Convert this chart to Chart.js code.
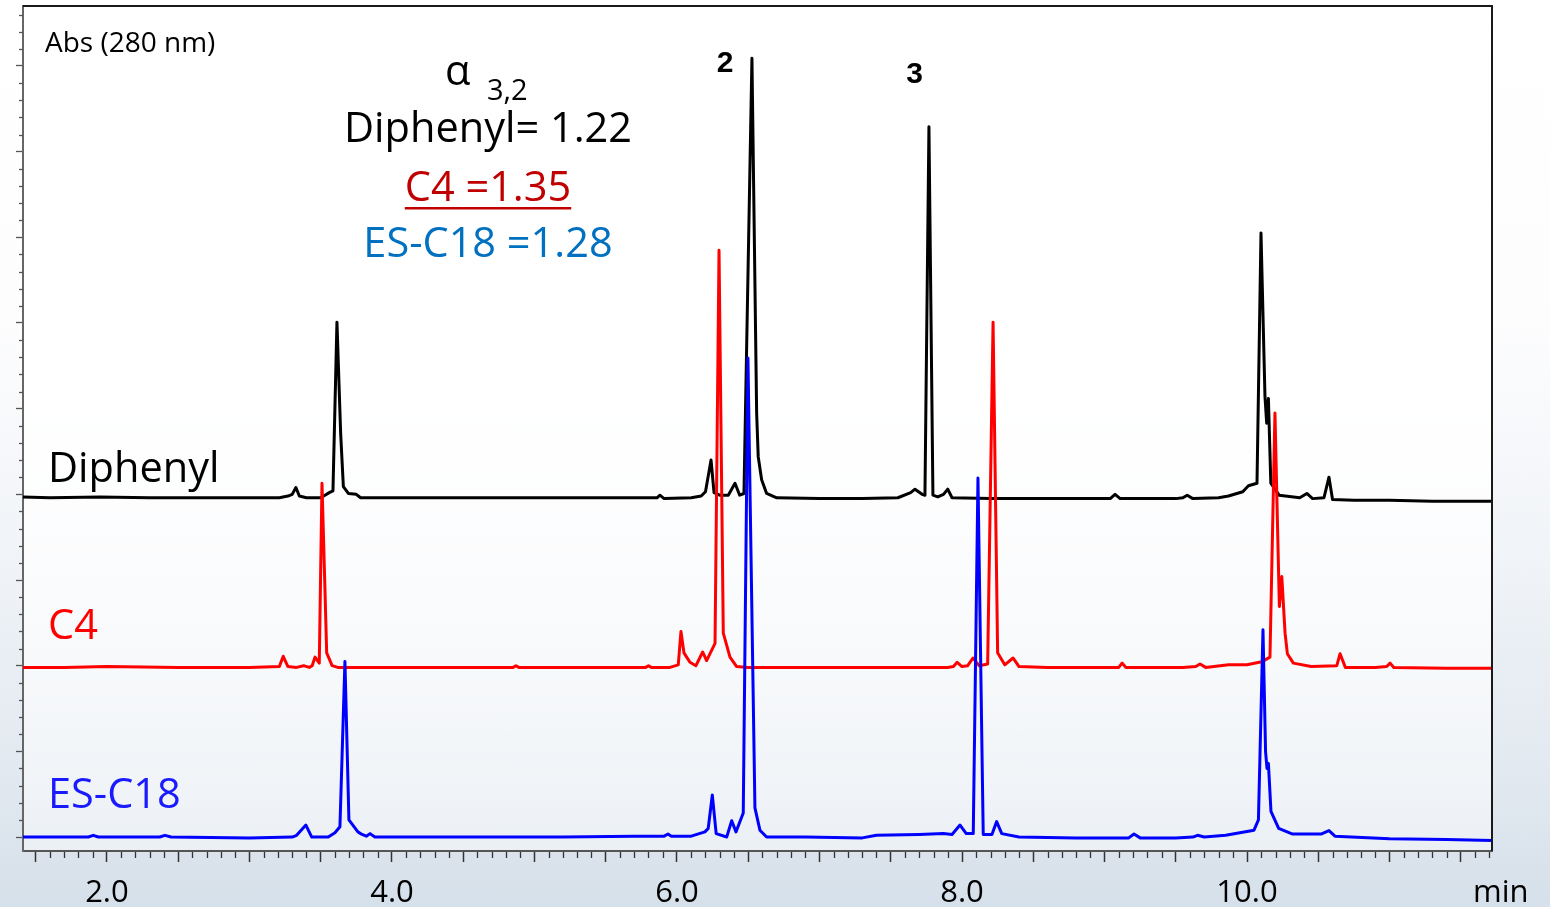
<!DOCTYPE html>
<html><head><meta charset="utf-8">
<script src="https://cdn.jsdelivr.net/npm/chart.js@4.4.0/dist/chart.umd.min.js"></script>
<style>
html,body{margin:0;padding:0;width:1550px;height:907px;overflow:hidden;}
body{background:linear-gradient(180deg,#ffffff 0%,#fdfdfe 35%,#f1f4f8 60%,#e2e9f0 85%,#d6e0ea 100%);}
canvas{display:block;}
</style></head><body>
<canvas id="c" width="1550" height="907"></canvas>
<script>
// ---- data (retention time in min, absorbance in arbitrary units incl. trace offset) ----
const seriesNames = ['Diphenyl', 'C4', 'ES-C18'];
const xTickLabels = ['2.0', '4.0', '6.0', '8.0', '10.0'];

const diphenylTime = [1.411, 1.60, 1.95, 2.30, 2.65, 3.00, 3.21, 3.27, 3.30, 3.326, 3.35, 3.40, 3.50, 3.53, 3.56, 3.586, 3.614, 3.640, 3.659, 3.694, 3.75, 3.78, 4.00, 4.50, 5.00, 5.50, 5.86, 5.88, 5.91, 6.10, 6.17, 6.20, 6.239, 6.26, 6.30, 6.36, 6.407, 6.44, 6.47, 6.526, 6.559, 6.570, 6.594, 6.629, 6.70, 7.00, 7.30, 7.55, 7.64, 7.67, 7.72, 7.74, 7.768, 7.796, 7.83, 7.87, 7.90, 7.93, 8.20, 8.60, 9.04, 9.074, 9.11, 9.50, 9.55, 9.58, 9.62, 9.80, 9.87, 9.97, 10.01, 10.07, 10.098, 10.126, 10.138, 10.150, 10.167, 10.225, 10.37, 10.42, 10.46, 10.54, 10.575, 10.60, 10.75, 11.00, 11.30, 11.719];
const diphenylAbs = [39.7, 39.6, 39.7, 39.6, 39.6, 39.6, 39.6, 39.8, 40.0, 40.8, 39.8, 39.6, 39.6, 39.9, 40.2, 40.4, 60.1, 47.1, 40.9, 40.1, 40.0, 39.6, 39.6, 39.6, 39.6, 39.6, 39.6, 39.9, 39.5, 39.6, 39.8, 40.3, 44.0, 40.2, 39.9, 39.9, 41.3, 39.9, 40.1, 90.9, 49.5, 44.4, 41.7, 40.1, 39.6, 39.5, 39.5, 39.6, 40.2, 40.6, 40.0, 39.9, 82.9, 39.9, 39.7, 40.0, 40.6, 39.6, 39.5, 39.5, 39.5, 40.0, 39.5, 39.5, 39.6, 39.9, 39.5, 39.6, 39.8, 40.3, 41.0, 41.3, 70.5, 51.4, 48.3, 51.2, 41.3, 39.9, 39.6, 40.1, 39.5, 39.6, 42.0, 39.4, 39.3, 39.3, 39.2, 39.2];

const c4Time = [1.411, 1.70, 2.00, 2.50, 3.00, 3.21, 3.237, 3.27, 3.33, 3.38, 3.42, 3.44, 3.46, 3.49, 3.509, 3.528, 3.542, 3.58, 3.62, 3.70, 4.00, 4.50, 4.85, 4.87, 4.89, 5.00, 5.50, 5.78, 5.80, 5.82, 5.95, 6.009, 6.028, 6.049, 6.068, 6.091, 6.133, 6.180, 6.208, 6.267, 6.295, 6.325, 6.372, 6.419, 6.50, 6.80, 7.20, 7.60, 7.90, 7.940, 7.966, 8.00, 8.04, 8.077, 8.12, 8.18, 8.218, 8.25, 8.30, 8.358, 8.40, 8.60, 9.00, 9.10, 9.123, 9.15, 9.55, 9.64, 9.67, 9.71, 9.87, 10.00, 10.103, 10.161, 10.196, 10.227, 10.244, 10.267, 10.283, 10.325, 10.45, 10.63, 10.653, 10.69, 10.90, 10.98, 11.004, 11.03, 11.40, 11.719];
const c4Abs = [19.8, 19.8, 19.9, 19.8, 19.8, 19.9, 21.1, 19.9, 19.8, 20.0, 19.8, 20.0, 21.0, 20.3, 41.3, 30.0, 21.5, 20.0, 19.8, 19.8, 19.8, 19.8, 19.8, 20.0, 19.8, 19.8, 19.8, 19.8, 20.0, 19.8, 19.8, 20.1, 24.0, 21.5, 21.0, 20.4, 20.0, 21.6, 20.6, 22.6, 68.5, 23.8, 21.0, 19.9, 19.8, 19.8, 19.8, 19.8, 19.8, 19.9, 20.4, 19.9, 20.0, 20.9, 20.0, 20.2, 60.1, 21.5, 20.1, 20.9, 19.9, 19.8, 19.8, 19.8, 20.3, 19.8, 19.8, 19.9, 20.2, 19.8, 20.1, 20.1, 20.45, 21.0, 49.5, 26.9, 30.4, 23.8, 21.4, 20.3, 19.9, 20.0, 21.4, 19.8, 19.8, 19.9, 20.3, 19.8, 19.7, 19.7];

const esc18Time = [1.411, 1.60, 1.87, 1.904, 1.94, 2.37, 2.407, 2.45, 3.00, 3.30, 3.331, 3.396, 3.437, 3.553, 3.600, 3.635, 3.670, 3.698, 3.761, 3.79, 3.82, 3.846, 3.88, 4.20, 4.80, 5.20, 5.70, 5.91, 5.937, 5.96, 6.10, 6.196, 6.219, 6.248, 6.275, 6.349, 6.384, 6.414, 6.465, 6.498, 6.547, 6.582, 6.629, 6.90, 7.30, 7.40, 7.70, 7.869, 7.93, 7.986, 8.03, 8.079, 8.112, 8.149, 8.21, 8.243, 8.279, 8.40, 8.80, 9.17, 9.207, 9.25, 9.50, 9.62, 9.653, 9.70, 9.85, 9.95, 10.049, 10.08, 10.112, 10.13, 10.14, 10.150, 10.168, 10.222, 10.320, 10.519, 10.575, 10.617, 11.00, 11.40, 11.719];
const esc18Abs = [0.0, 0.0, 0.0, 0.2, 0.0, 0.0, 0.2, 0.0, -0.1, 0.0, 0.2, 1.4, 0.0, 0.0, 0.5, 1.2, 20.5, 2.0, 0.6, 0.3, 0.1, 0.4, 0.0, 0.0, 0.0, 0.0, 0.1, 0.1, 0.35, 0.1, 0.1, 0.6, 1.0, 4.9, 0.4, 0.0, 1.9, 0.6, 2.8, 55.9, 3.4, 0.8, 0.0, 0.0, -0.1, 0.2, 0.3, 0.4, 0.3, 1.4, 0.4, 0.4, 41.9, 0.3, 0.3, 1.8, 0.4, 0.0, -0.1, -0.1, 0.35, -0.1, -0.1, 0.0, 0.2, 0.0, 0.2, 0.5, 0.8, 2.0, 24.2, 10.0, 8.0, 8.6, 3.0, 1.0, 0.35, 0.35, 0.75, 0.1, -0.2, -0.3, -0.4];

const toXY = (ts, vs) => ts.map((t, i) => ({x: t, y: vs[i]}));

const FONT = '"Open Sans", "Noto Sans", sans-serif';
const BIG = '41.5px ' + FONT;

const decor = {
  id: 'decor',
  beforeDraw(chart) {
    const {ctx, chartArea: a} = chart;
    const g = ctx.createLinearGradient(0, a.top, 0, a.bottom);
    g.addColorStop(0, 'rgba(255,255,255,1)');
    g.addColorStop(0.45, 'rgba(255,255,255,0.9)');
    g.addColorStop(1, 'rgba(255,255,255,0.45)');
    ctx.save();
    ctx.fillStyle = g;
    ctx.fillRect(a.left, a.top, a.right - a.left, a.bottom - a.top);
    ctx.restore();
  },
  afterDraw(chart) {
    const {ctx, chartArea: a, scales: {x, y}} = chart;
    ctx.save();
    // minor ticks on x (every 0.1 min)
    ctx.strokeStyle = '#333';
    ctx.lineWidth = 1.3;
    for (let k = Math.ceil(x.min * 10 - 1e-6); k <= Math.floor(x.max * 10 + 1e-6); k++) {
      if (k % 5 === 0) continue;
      const px = Math.round(x.getPixelForValue(k / 10)) + 0.5;
      ctx.beginPath(); ctx.moveTo(px, a.bottom + 1); ctx.lineTo(px, a.bottom + 7); ctx.stroke();
    }
    // minor ticks on y (every 2 units)
    ctx.strokeStyle = '#555';
    for (let k = Math.ceil(y.min / 2); k * 2 <= y.max; k++) {
      if (k % 5 === 0) continue;
      const py = Math.round(y.getPixelForValue(k * 2)) + 0.5;
      ctx.beginPath(); ctx.moveTo(a.left - 4, py); ctx.lineTo(a.left, py); ctx.stroke();
    }
    // frame top and right
    ctx.strokeStyle = '#1a1a1a';
    ctx.lineWidth = 2;
    ctx.beginPath();
    ctx.moveTo(a.left, a.top); ctx.lineTo(a.right, a.top); ctx.lineTo(a.right, a.bottom);
    ctx.stroke();

    // texts
    ctx.textBaseline = 'alphabetic';
    ctx.textAlign = 'left';
    ctx.fillStyle = '#000';
    ctx.font = '28px ' + FONT;
    ctx.fillText('Abs (280 nm)', 45, 52);

    ctx.font = BIG;
    ctx.fillStyle = '#000'; ctx.fillText(seriesNames[0], 48, 482);
    ctx.fillStyle = '#ff0000'; ctx.fillText(seriesNames[1], 48, 639);
    ctx.fillStyle = '#1a1aff'; ctx.fillText(seriesNames[2], 48, 808);

    ctx.fillStyle = '#000';
    ctx.fillText('\u03B1', 445, 85);
    ctx.font = '29px ' + FONT;
    ctx.fillText('3,2', 487, 100);

    ctx.textAlign = 'center';
    ctx.font = BIG;
    ctx.fillStyle = '#000';
    ctx.fillText('Diphenyl= 1.22', 488, 142);
    ctx.fillStyle = '#c00000';
    ctx.fillText('C4 =1.35', 488, 201);
    const w = ctx.measureText('C4 =1.35').width;
    ctx.fillRect(488 - w / 2, 207, w, 2.5);
    ctx.fillStyle = '#0070c0';
    ctx.fillText('ES-C18 =1.28', 488, 257);

    ctx.fillStyle = '#000';
    ctx.font = 'bold 30px "Liberation Sans", Arial, sans-serif';
    ctx.fillText('2', 725, 72);
    ctx.fillText('3', 914.5, 83);

    ctx.textAlign = 'left';
    ctx.font = '31px ' + FONT;
    ctx.fillText('min', 1473, 902);
    ctx.restore();
  }
};

new Chart(document.getElementById('c'), {
  type: 'line',
  data: {
    datasets: [
      {label: seriesNames[2], data: toXY(esc18Time, esc18Abs), borderColor: '#0000ff'},
      {label: seriesNames[1], data: toXY(c4Time, c4Abs), borderColor: '#ff0000'},
      {label: seriesNames[0], data: toXY(diphenylTime, diphenylAbs), borderColor: '#000000'}
    ].map(d => Object.assign(d, {borderWidth: 3, pointRadius: 0, tension: 0, fill: false, borderJoinStyle: 'round', borderCapStyle: 'round'}))
  },
  options: {
    responsive: false,
    animation: false,
    devicePixelRatio: 1,
    layout: {padding: {left: 0, top: 6, right: 58, bottom: 0}},
    plugins: {legend: {display: false}, tooltip: {enabled: false}},
    scales: {
      x: {
        type: 'linear', min: 1.411, max: 11.719, bounds: 'data',
        border: {display: true, color: '#555', width: 2},
        grid: {display: true, drawOnChartArea: false, drawTicks: true, tickLength: 11, tickColor: '#333', tickWidth: 1.5},
        afterBuildTicks(s) {
          const t = [];
          for (let k = Math.ceil(s.min * 2 - 1e-6); k <= Math.floor(s.max * 2 + 1e-6); k++) t.push({value: k / 2});
          s.ticks = t;
        },
        ticks: {
          autoSkip: false, maxRotation: 0, minRotation: 0,
          padding: 13, color: '#000', font: {family: FONT, size: 31},
          callback: (v) => { const s = Number(v).toFixed(1); return xTickLabels.includes(s) ? s : ''; }
        },
        afterFit(s) { s.height = 56; }
      },
      y: {
        type: 'linear', min: -1.63, max: 97, bounds: 'data',
        border: {display: true, color: '#666', width: 2},
        grid: {display: true, drawOnChartArea: false, drawTicks: true, tickLength: 7, tickColor: '#555', tickWidth: 1.3},
        afterBuildTicks(s) {
          const t = [];
          for (let k = Math.ceil(s.min / 10); k * 10 <= s.max; k++) t.push({value: k * 10});
          s.ticks = t;
        },
        ticks: {display: false},
        afterFit(s) { s.width = 23; }
      }
    }
  },
  plugins: [decor]
});
</script>
</body></html>
